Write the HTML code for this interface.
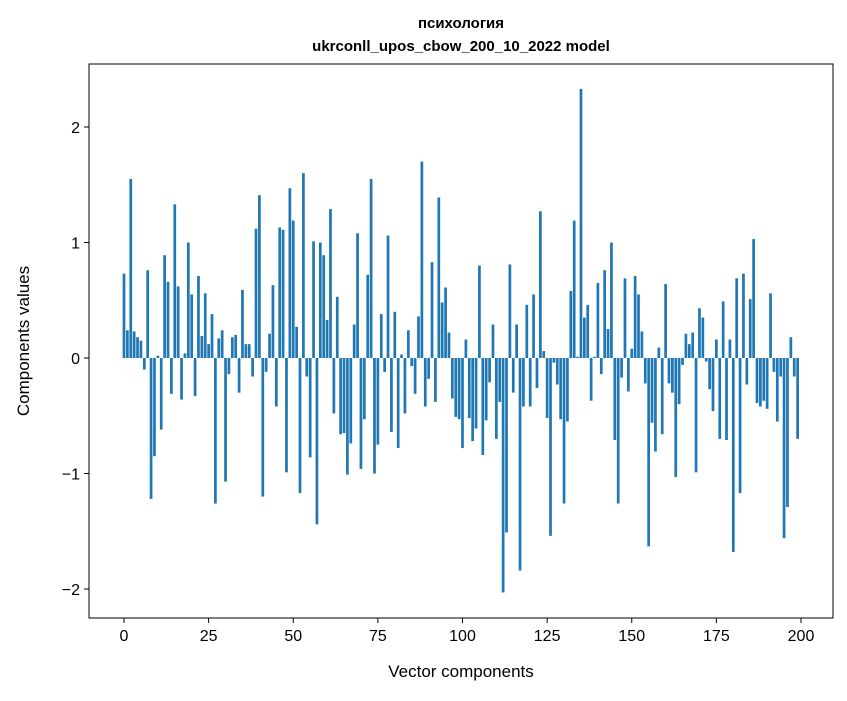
<!DOCTYPE html>
<html><head><meta charset="utf-8"><style>
body{margin:0;background:#fff;}
svg text{font-family:"Liberation Sans","DejaVu Sans",sans-serif;fill:#000;}
</style></head><body>
<svg id="chart" width="847" height="696" xmlns="http://www.w3.org/2000/svg">
<rect width="847" height="696" fill="#fff"/>
<text x="461" y="28" text-anchor="middle" font-size="15" font-weight="bold">психология</text>
<text x="461" y="51" text-anchor="middle" font-size="15" font-weight="bold">ukrconll_upos_cbow_200_10_2022 model</text>
<g id="bars"></g>
<g id="axes"></g>
<text x="461" y="677" text-anchor="middle" font-size="17">Vector components</text>
<text transform="translate(29,341) rotate(-90)" text-anchor="middle" font-size="17">Components values</text>
</svg>
<script>
const values = [0.73,0.24,1.55,0.23,0.18,0.15,-0.10,0.76,-1.22,-0.85,0.02,-0.62,0.89,0.66,-0.31,1.33,0.62,-0.36,0.04,1.0,0.55,-0.33,0.71,0.19,0.56,0.12,0.38,-1.26,0.17,0.24,-1.07,-0.14,0.18,0.20,-0.30,0.59,0.12,0.12,-0.16,1.12,1.41,-1.20,-0.12,0.21,0.63,-0.42,1.13,1.11,-0.99,1.47,
1.19,0.27,-1.17,1.60,-0.16,-0.86,1.01,-1.44,1.00,0.89,0.33,1.29,-0.48,0.53,-0.66,-0.65,-1.01,-0.74,0.29,1.08,-0.96,-0.53,0.72,1.55,-1.00,-0.75,0.38,-0.12,1.06,-0.64,0.40,-0.78,0.03,-0.48,0.24,-0.07,-0.31,0.36,1.70,-0.42,-0.18,0.83,-0.38,1.39,0.48,0.61,0.22,-0.35,-0.51,-0.53,
-0.78,0.16,-0.52,-0.72,-0.61,0.80,-0.84,-0.54,-0.21,0.29,-0.70,-0.38,-2.03,-1.51,0.81,-0.30,0.29,-1.84,-0.42,0.46,-0.42,0.55,-0.26,1.27,0.06,-0.52,-1.54,-0.04,-0.23,-0.53,-1.26,-0.55,0.58,1.19,0.01,2.33,0.35,0.46,-0.37,0.01,0.65,-0.14,0.76,0.25,1.0,-0.71,-1.26,-0.17,0.69,-0.29,
0.08,0.71,0.55,0.23,-0.22,-1.63,-0.56,-0.81,0.09,-0.66,0.64,-0.22,-0.30,-1.03,-0.40,-0.06,0.21,0.12,0.22,-0.99,0.43,0.35,-0.03,-0.27,-0.46,0.16,-0.70,0.49,-0.71,0.16,-1.68,0.69,-1.17,0.73,-0.23,0.51,1.03,-0.39,-0.42,-0.37,-0.44,0.56,-0.12,-0.55,-0.16,-1.56,-1.29,0.18,-0.16,-0.70];
const xTicks = [0,25,50,75,100,125,150,175,200];
const yTicks = [-2,-1,0,1,2];
const yTickLabels = ["\u22122","\u22121","0","1","2"];

const L=89,R=833,T=64,B=618;
const X0=124,XS=3.385, Y0=358, YS=115.5;
const xs = v => X0 + v*XS;
const ys = v => Y0 - v*YS;
const NS="http://www.w3.org/2000/svg";
const bars=document.getElementById('bars');
values.forEach((v,i)=>{
  const r=document.createElementNS(NS,'rect');
  const y1=ys(Math.max(v,0)), y2=ys(Math.min(v,0));
  r.setAttribute('x',xs(i)-0.4*XS);
  r.setAttribute('width',0.8*XS);
  r.setAttribute('y',y1);
  r.setAttribute('height',Math.max(y2-y1,0.3));
  r.setAttribute('fill','#1f77b4');
  
  
  bars.appendChild(r);
});
const axes=document.getElementById('axes');
const frame=document.createElementNS(NS,'rect');
frame.setAttribute('x',L);frame.setAttribute('y',T);frame.setAttribute('width',R-L);frame.setAttribute('height',B-T);
frame.setAttribute('fill','none');frame.setAttribute('stroke','#000');frame.setAttribute('stroke-width','1');


axes.appendChild(frame);
xTicks.forEach(t=>{
  const l=document.createElementNS(NS,'line');
  l.setAttribute('x1',xs(t));l.setAttribute('x2',xs(t));l.setAttribute('y1',B);l.setAttribute('y2',B+5);l.setAttribute('stroke','#000');
  
  
  axes.appendChild(l);
  const tx=document.createElementNS(NS,'text');
  tx.setAttribute('x',xs(t));tx.setAttribute('y',B+23);tx.setAttribute('text-anchor','middle');tx.setAttribute('font-size','16');
  tx.textContent=t;
  
  
  axes.appendChild(tx);
});
yTicks.forEach((t,k)=>{
  const l=document.createElementNS(NS,'line');
  l.setAttribute('x1',L-5);l.setAttribute('x2',L);l.setAttribute('y1',ys(t));l.setAttribute('y2',ys(t));l.setAttribute('stroke','#000');
  
  
  axes.appendChild(l);
  const tx=document.createElementNS(NS,'text');
  tx.setAttribute('x',L-9);tx.setAttribute('y',ys(t)+6);tx.setAttribute('text-anchor','end');tx.setAttribute('font-size','16');
  tx.textContent=yTickLabels[k];
  
  
  axes.appendChild(tx);
});
</script>
</body></html>
